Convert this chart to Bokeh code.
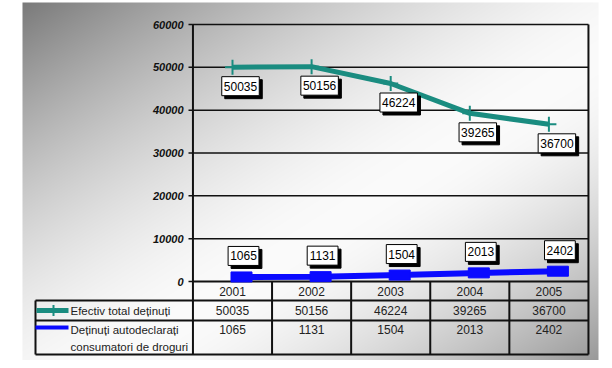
import numpy as np
from bokeh.plotting import figure
from bokeh.models import ColumnDataSource, Range1d
from bokeh.core.properties import value
from bokeh.transform import dodge
from bokeh.embed import file_html
from bokeh.resources import INLINE

# ---------------- data ----------------
years = ["2001", "2002", "2003", "2004", "2005"]
total_detinuti = [50035, 50156, 46224, 39265, 36700]
consumatori = [1065, 1131, 1504, 2013, 2402]
series_names = ["Efectiv total deținuți", "Deținuți autodeclarați\nconsumatori de droguri"]
y_ticks = [0, 10000, 20000, 30000, 40000, 50000, 60000]
y_tick_labels = ["0", "10000", "20000", "30000", "40000", "50000", "60000"]

# ---------------- geometry / style ----------------
W, H = 600, 360
PX_CAT = 79.1                 # pixels per category
CAT0 = 232                    # canvas x of first category
ZERO_Y = 281                  # canvas y of value 0
PPU = 257 / 60000.0           # pixels per value unit

FONT = value("Liberation Sans")
TEAL = "#1A8C80"
BLUE = "#0A0AFF"
INK = "#111111"


def xd(px_x):
    return (px_x - CAT0) / PX_CAT


def yd(px_y):
    return (ZERO_Y - px_y) / PPU


def dxp(px):
    return px / PX_CAT


def dyp(px):
    return px / PPU


p = figure(width=W, height=H,
           x_range=Range1d(xd(0), xd(W)),
           y_range=Range1d(yd(H), yd(0)),
           output_backend="svg", toolbar_location=None, min_border=0,
           x_axis_location=None, y_axis_location=None)
p.grid.visible = False
p.outline_line_color = None
p.background_fill_color = "white"
p.border_fill_color = "white"

# ---------------- gradient background ----------------
gx0, gx1, gy0, gy1 = 22, 598, 2, H
gw, gh = gx1 - gx0, gy1 - gy0
ix = gx0 + np.arange(gw) + 0.5
iy = gy0 + np.arange(gh) + 0.5
U, V = np.meshgrid((ix - 22) / 576.0, (iy - 2) / 364.0)
T = (U + V) / 2.0
g = np.where(T < 0.55,
             250 - 128 * np.clip(1 - T / 0.55, 0, 1) ** 1.5,
             250 - 100 * np.clip((T - 0.6) / 0.4, 0, 1) ** 1.5)
g = np.clip(g, 0, 255).astype(np.uint8)[::-1]
img = np.empty((gh, gw), dtype=np.uint32)
view = img.view(dtype=np.uint8).reshape((gh, gw, 4))
view[..., 0] = g
view[..., 1] = g
view[..., 2] = g
view[..., 3] = 255
p.image_rgba(image=[img], x=xd(gx0), y=yd(gy1), dw=xd(gx1) - xd(gx0), dh=yd(gy0) - yd(gy1))

idx = list(range(len(years)))
left, right = -0.5, len(years) - 0.5
ymax = y_ticks[-1]
tbl_bottom = yd(354)

# ---------------- grid, axis, frame ----------------
p.segment(x0=[left] * (len(y_ticks) - 1), y0=y_ticks[1:], x1=[right] * (len(y_ticks) - 1), y1=y_ticks[1:],
          line_color=INK, line_width=1.5)
p.segment(x0=[xd(188)] * len(y_ticks), y0=y_ticks, x1=[left] * len(y_ticks), y1=y_ticks,
          line_color=INK, line_width=1.5)
p.text(x=[xd(183)] * len(y_ticks), y=y_ticks, text=y_tick_labels, text_font=FONT,
       text_font_size="11px", text_font_style="bold italic", text_align="right",
       text_baseline="middle", text_color=INK)

# table lines
hy = [yd(300), yd(320), tbl_bottom]
p.segment(x0=[xd(35)] * 3, y0=hy, x1=[right] * 3, y1=hy, line_color=INK, line_width=2)
p.segment(x0=[left], y0=[0], x1=[right], y1=[0], line_color=INK, line_width=2)
p.segment(x0=[xd(35)], y0=[yd(300)], x1=[xd(35)], y1=[tbl_bottom], line_color=INK, line_width=2)
p.segment(x0=[left, right], y0=[ymax, ymax], x1=[left, right], y1=[tbl_bottom, tbl_bottom],
          line_color=INK, line_width=2)
seps = [i + 0.5 for i in idx[:-1]]
p.segment(x0=seps, y0=[0] * len(seps), x1=seps, y1=[tbl_bottom] * len(seps),
          line_color=INK, line_width=2)

# table text
p.text(x=idx, y=[yd(291)] * len(idx), text=years, text_font=FONT, text_font_size="12px",
       text_align="center", text_baseline="middle", text_color="#222222")
p.text(x=idx, y=[yd(310)] * len(idx), text=[str(v) for v in total_detinuti], text_font=FONT,
       text_font_size="12px", text_align="center", text_baseline="middle", text_color="#222222")
p.text(x=idx, y=[yd(329)] * len(idx), text=[str(v) for v in consumatori], text_font=FONT,
       text_font_size="12px", text_align="center", text_baseline="middle", text_color="#222222")

# legend keys inside table
p.segment(x0=[xd(36)], y0=[yd(310)], x1=[xd(68)], y1=[yd(310)], line_color=TEAL, line_width=5)
p.scatter(x=[xd(53)], y=[yd(310)], marker="cross", size=11, line_width=2, line_color=TEAL)
p.segment(x0=[xd(35)], y0=[yd(327)], x1=[xd(68)], y1=[yd(327)], line_color=BLUE, line_width=4)
p.text(x=[xd(70)], y=[yd(310)], text=[series_names[0]], text_font=FONT, text_font_size="11.5px",
       text_align="left", text_baseline="middle", text_color="#222222")
name2 = series_names[1].split("\n")
p.text(x=[xd(70)] * len(name2), y=[yd(329), yd(346)], text=name2, text_font=FONT,
       text_font_size="11.5px", text_align="left", text_baseline="middle", text_color="#222222")

# ---------------- series ----------------
src = ColumnDataSource(dict(
    x=idx, total=total_detinuti, cons=consumatori,
    total_lbl=[str(v) for v in total_detinuti], cons_lbl=[str(v) for v in consumatori],
    total_w=[len(str(v)) * 6.7 + 4 for v in total_detinuti],
    cons_w=[len(str(v)) * 6.7 + 4 for v in consumatori],
))

p.line(x="x", y="total", source=src, line_color=TEAL, line_width=5)
p.scatter(x="x", y="total", source=src, marker="cross", size=15, line_width=2, line_color=TEAL)

bshift = dxp(9)
p.line(x=dodge("x", bshift), y="cons", source=src, line_color=BLUE, line_width=6)
p.rect(x=dodge("x", bshift), y="cons", width=21, height=10, width_units="screen",
       height_units="screen", source=src, fill_color=BLUE, line_color=BLUE)

# data labels: teal below, blue above
for ycol, lcol, wcol, ox, oy in [("total", "total_lbl", "total_w", 8, -19),
                                 ("cons", "cons_lbl", "cons_w", 11, 21)]:
    p.rect(x=dodge("x", dxp(ox + 3)), y=dodge(ycol, dyp(oy - 3)), width=wcol, height=19,
           width_units="screen", height_units="screen", source=src,
           fill_color="black", line_color="black")
    p.rect(x=dodge("x", dxp(ox)), y=dodge(ycol, dyp(oy)), width=wcol, height=19,
           width_units="screen", height_units="screen", source=src,
           fill_color="white", line_color="black", line_width=1)
    p.text(x=dodge("x", dxp(ox)), y=dodge(ycol, dyp(oy)), text=lcol, source=src,
           text_font=FONT, text_font_size="12px", text_align="center",
           text_baseline="middle", text_color="black")

open("out.html", "w").write(file_html(p, INLINE))
